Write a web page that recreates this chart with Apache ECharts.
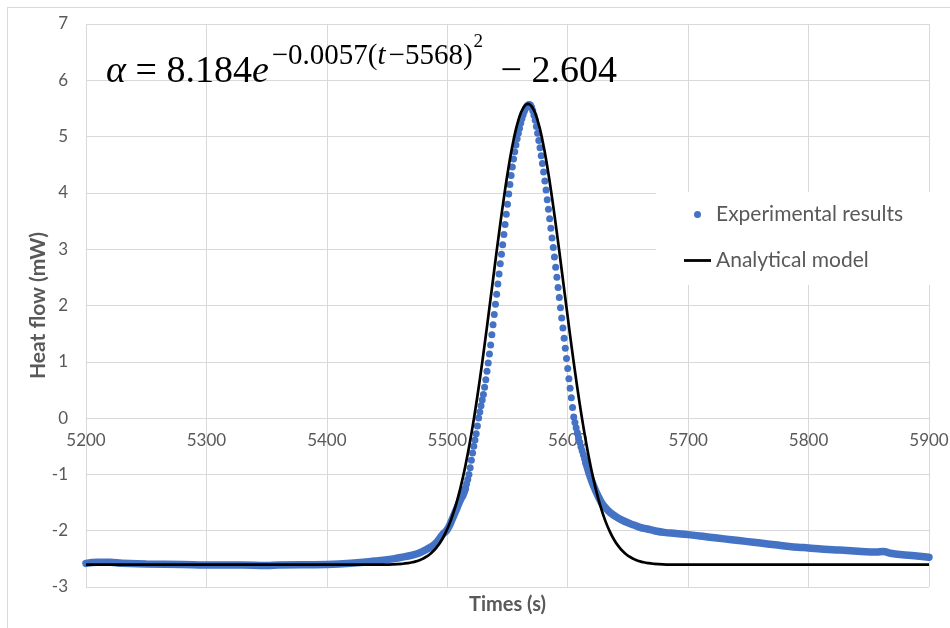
<!DOCTYPE html>
<html>
<head>
<meta charset="utf-8">
<script src="https://cdn.jsdelivr.net/npm/echarts@6/dist/echarts.min.js"></script>
<style>
html,body{margin:0;padding:0;background:#fff;}
#chart{width:950px;height:628px;}
</style>
</head>
<body>
<div id="chart"></div>
<script>
// Axis ticks
const xTicks = [5200, 5300, 5400, 5500, 5600, 5700, 5800, 5900];
const yTicks = [-3, -2, -1, 0, 1, 2, 3, 4, 5, 6, 7];

// Experimental results – baseline before the peak (dense overlapping dots)
const expBaseT = [5200, 5210, 5220, 5230, 5250, 5280, 5300, 5330, 5350, 5360, 5400, 5420, 5440, 5455, 5465, 5475, 5483, 5490, 5496, 5500, 5504, 5508, 5511, 5513, 5515];
const expBaseV = [-2.58, -2.56, -2.56, -2.58, -2.59, -2.60, -2.61, -2.61, -2.62, -2.61, -2.60, -2.58, -2.54, -2.50, -2.46, -2.41, -2.33, -2.23, -2.07, -1.98, -1.80, -1.60, -1.45, -1.37, -1.25];

// Experimental results – peak (individual dots, 1 s apart)
const expPeakT = [5515, 5516, 5517, 5518, 5519, 5520, 5521, 5522, 5523, 5524, 5525, 5526, 5527, 5528, 5529, 5530,
  5531, 5532, 5533, 5534, 5535, 5536, 5537, 5538, 5539, 5540, 5541, 5542, 5543, 5544, 5545, 5546, 5547, 5548, 5549, 5550,
  5551, 5552, 5553, 5554, 5555, 5556, 5557, 5558, 5559, 5560, 5561, 5562, 5563, 5564, 5565, 5566, 5567, 5568,
  5569, 5570, 5571, 5572, 5573, 5574, 5575, 5576, 5577, 5578, 5579, 5580, 5581, 5582, 5583, 5584, 5585, 5586, 5587, 5588,
  5589, 5590, 5591, 5592, 5593, 5594, 5595, 5596, 5597, 5598, 5599, 5600, 5601, 5602, 5603, 5604, 5605, 5606, 5607, 5608,
  5609, 5610, 5611, 5612, 5613, 5614, 5615];
const expPeakV = [-1.25, -1.17, -1.09, -1.00, -0.88, -0.75, -0.62, -0.50, -0.39, -0.28, -0.14, 0.00, 0.11, 0.22, 0.32, 0.42,
  0.55, 0.68, 0.83, 0.98, 1.14, 1.30, 1.48, 1.66, 1.84, 2.02, 2.20, 2.38, 2.56, 2.74, 2.91, 3.08, 3.26, 3.44, 3.62, 3.80,
  3.98, 4.15, 4.31, 4.46, 4.60, 4.73, 4.85, 4.96, 5.06, 5.15, 5.24, 5.32, 5.39, 5.45, 5.50, 5.54, 5.56, 5.57,
  5.56, 5.52, 5.46, 5.38, 5.29, 5.18, 5.06, 4.93, 4.80, 4.66, 4.52, 4.37, 4.21, 4.05, 3.88, 3.71, 3.54, 3.37, 3.20, 3.03,
  2.86, 2.68, 2.50, 2.32, 2.14, 1.96, 1.78, 1.60, 1.42, 1.24, 1.06, 0.88, 0.70, 0.53, 0.36, 0.19, 0.02, -0.08, -0.17, -0.26,
  -0.35, -0.43, -0.51, -0.58, -0.65, -0.72, -0.79];

// Experimental results – tail after the peak (dense overlapping dots)
const expTailT = [5615, 5616, 5617, 5618, 5619, 5620, 5622, 5624, 5626, 5628, 5630, 5633, 5636, 5640, 5645, 5650, 5655, 5660, 5666, 5672, 5680, 5690, 5700, 5712, 5724, 5736, 5748, 5760, 5772, 5784, 5796, 5808, 5820, 5832, 5844, 5856, 5862, 5868, 5880, 5890, 5900];
const expTailV = [-0.79, -0.86, -0.93, -1.00, -1.06, -1.12, -1.23, -1.33, -1.42, -1.50, -1.56, -1.63, -1.69, -1.75, -1.81, -1.86, -1.90, -1.94, -1.97, -2.00, -2.03, -2.05, -2.07, -2.10, -2.13, -2.16, -2.19, -2.22, -2.25, -2.28, -2.30, -2.32, -2.34, -2.35, -2.37, -2.38, -2.37, -2.40, -2.43, -2.45, -2.47];

// Analytical model
const modelT = [5200, 5300, 5400, 5447, 5455, 5463, 5467, 5471, 5475, 5479, 5483, 5487, 5491, 5495, 5499, 5503, 5507, 5511, 5515, 5519, 5523, 5527, 5531, 5535, 5539, 5543, 5547, 5551, 5555, 5559, 5563, 5567,
  5571, 5575, 5579, 5583, 5587, 5591, 5595, 5599, 5603, 5607, 5611, 5615, 5619, 5623, 5627, 5631, 5635, 5639, 5643, 5647, 5651, 5655, 5659, 5663, 5667, 5671, 5679, 5687, 5700, 5800, 5900];
const modelV = [-2.604, -2.604, -2.604, -2.602, -2.598, -2.587, -2.577, -2.561, -2.538, -2.505, -2.457, -2.391, -2.300, -2.178, -2.017, -1.812, -1.553, -1.234, -0.852, -0.403, 0.111, 0.684, 1.306, 1.961, 2.631, 3.289, 3.911, 4.469, 4.935, 5.287, 5.506, 5.580,
  5.506, 5.287, 4.935, 4.469, 3.911, 3.289, 2.631, 1.961, 1.306, 0.684, 0.111, -0.403, -0.852, -1.234, -1.553, -1.812, -2.017, -2.178, -2.300, -2.391, -2.457, -2.505, -2.538, -2.561, -2.577, -2.587, -2.598, -2.602, -2.604, -2.604, -2.604];

const zip = (a, b) => a.map((v, i) => [v, b[i]]);

const BLUE = '#4472C4';
const GRID = '#d9d9d9';
const TXT = '#595959';
const FONT = 'Lato';

const chart = echarts.init(document.getElementById('chart'), null, {renderer: 'canvas'});
chart.setOption({
  animation: false,
  backgroundColor: '#fff',
  grid: {left: 86, right: 21, top: 24, bottom: 41, containLabel: false, outerBoundsMode: 'none'},
  xAxis: {
    type: 'value', min: xTicks[0], max: xTicks[xTicks.length - 1], interval: 100,
    axisLine: {show: false, onZero: false},
    axisTick: {show: false},
    // tick labels sit just under the y = 0 grid line, as in the reference
    axisLabel: {color: TXT, fontSize: 17, fontFamily: FONT, margin: -155, formatter: v => String(v)},
    splitLine: {show: true, lineStyle: {color: GRID, width: 1}},
    name: 'Times (s)', nameLocation: 'middle', nameGap: 8, nameMoveOverlap: false,
    nameTextStyle: {color: TXT, fontSize: 20, fontWeight: 'bold', fontFamily: FONT}
  },
  yAxis: {
    type: 'value', min: yTicks[0], max: yTicks[yTicks.length - 1], interval: 1,
    axisLine: {show: false, onZero: false}, axisTick: {show: false},
    axisLabel: {color: TXT, fontSize: 17, fontFamily: FONT, margin: 18},
    splitLine: {show: true, lineStyle: {color: GRID, width: 1}},
    name: 'Heat flow (mW)', nameLocation: 'middle', nameGap: 37, nameMoveOverlap: false,
    nameTextStyle: {color: TXT, fontSize: 21, fontWeight: 'bold', fontFamily: FONT}
  },
  legend: {
    orient: 'vertical', left: 656, top: 192,
    padding: [12, 40, 14, 28], backgroundColor: '#fff',
    itemGap: 25, itemWidth: 27, itemHeight: 7,
    textStyle: {fontFamily: FONT, fontSize: 21, color: TXT},
    data: [
      {name: 'Experimental results', icon: 'circle'},
      {name: 'Analytical model', icon: 'path://M0,0L27,0L27,2.8L0,2.8Z'}
    ]
  },
  series: [
    {name: 'expBase', type: 'line', data: zip(expBaseT, expBaseV), smooth: true, symbol: 'none',
      lineStyle: {color: BLUE, width: 7.5, cap: 'round'}, z: 2, silent: true},
    {name: 'expTail', type: 'line', data: zip(expTailT, expTailV), smooth: true, symbol: 'none',
      lineStyle: {color: BLUE, width: 7.5, cap: 'round'}, z: 2, silent: true},
    {name: 'Experimental results', type: 'scatter', data: zip(expPeakT, expPeakV), symbolSize: 7,
      itemStyle: {color: BLUE, opacity: 1}, z: 3},
    {name: 'Analytical model', type: 'line', data: zip(modelT, modelV), smooth: true, symbol: 'none', showSymbol: false,
      lineStyle: {color: '#000', width: 2.7}, itemStyle: {color: '#000'}, z: 4}
  ],
  graphic: [
    {type: 'line', shape: {x1: 7, y1: 7.5, x2: 950, y2: 7.5}, style: {stroke: GRID, lineWidth: 1}, silent: true},
    {type: 'line', shape: {x1: 7.5, y1: 7, x2: 7.5, y2: 628}, style: {stroke: GRID, lineWidth: 1}, silent: true},
    {type: 'text', left: 106, top: 33, z: 10,
      style: {
        text: '{i|α}{n| = 8.184}{i|e}{s|−0.0057(}{si|t}{s|−5568)}{ss|2}{n| − 2.604}',
        rich: {
          n: {fontFamily: 'Liberation Serif', fontSize: 38, fill: '#000', verticalAlign: 'bottom', lineHeight: 46},
          i: {fontFamily: 'Liberation Serif', fontSize: 38, fontStyle: 'italic', fill: '#000', verticalAlign: 'bottom', lineHeight: 46},
          s: {fontFamily: 'Liberation Serif', fontSize: 29, fill: '#000', verticalAlign: 'bottom', lineHeight: 32, padding: [0, 0, 20, 3]},
          si: {fontFamily: 'Liberation Serif', fontSize: 29, fontStyle: 'italic', fill: '#000', verticalAlign: 'bottom', lineHeight: 32, padding: [0, 0, 20, 0]},
          ss: {fontFamily: 'Liberation Serif', fontSize: 19, fill: '#000', verticalAlign: 'bottom', lineHeight: 20, padding: [0, 8, 39, 1]}
        }
      }
    }
  ]
});
</script>
</body>
</html>
